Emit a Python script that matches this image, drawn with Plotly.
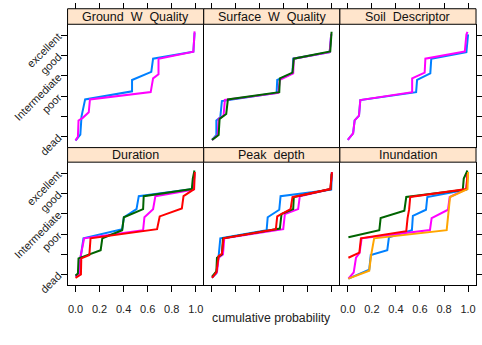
import plotly.graph_objects as go

# ---------------- data (cumulative probability vs. condition score) ----------------
level_vals = [0, 1, 2, 3, 4, 5]
level_text = ["dead", "", "poor", "Intermediate", "good", "excellent"]
x_tick_vals = [0.0, 0.2, 0.4, 0.6, 0.8, 1.0]
x_tick_text = ["0.0", "0.2", "0.4", "0.6", "0.8", "1.0"]
panel_titles = ["Ground  W  Quality", "Surface  W  Quality", "Soil  Descriptor",
                "Duration", "Peak  depth", "Inundation"]

# Ground W Quality
gw_blue_x = [0.0, 0.04, 0.05, 0.08, 0.47, 0.47, 0.63, 0.645, 0.98, 0.99]
gw_blue_y = [-0.19, 0.1, 1.0, 1.84, 2.24, 2.8, 3.2, 3.85, 4.2, 5.13]
gw_mag_x = [0.0, 0.02, 0.025, 0.06, 0.11, 0.12, 0.625, 0.645, 0.69, 0.69, 0.98, 0.99]
gw_mag_y = [-0.19, 0.0, 0.8, 0.93, 1.2, 1.84, 2.2, 2.88, 3.08, 3.85, 4.2, 5.2]

# Surface W Quality
sw_blue_x = [0.003, 0.039, 0.039, 0.072, 0.085, 0.54, 0.545, 0.672, 0.678, 0.981, 0.994]
sw_blue_y = [-0.16, 0.08, 0.80, 0.96, 1.76, 2.16, 2.8, 3.125, 3.85, 4.17, 5.05]
sw_mag_x = [0.003, 0.05, 0.058, 0.099, 0.11, 0.554, 0.567, 0.678, 0.683, 0.981, 0.994]
sw_mag_y = [-0.16, 0.08, 0.88, 1.04, 1.81, 2.16, 2.8, 3.125, 3.85, 4.17, 5.08]
sw_green_x = [0.003, 0.058, 0.066, 0.121, 0.135, 0.562, 0.567, 0.672, 0.683, 0.986, 0.997]
sw_green_y = [-0.16, 0.08, 0.88, 1.12, 1.84, 2.2, 2.88, 3.16, 3.85, 4.21, 5.18]

# Soil Descriptor
sd_blue_x = [0.0, 0.044, 0.057, 0.093, 0.104, 0.568, 0.576, 0.686, 0.694, 0.986, 1.0]
sd_blue_y = [-0.16, 0.16, 0.8, 1.04, 1.81, 2.2, 2.8, 3.125, 3.85, 4.17, 5.05]
sd_mag_x = [0.0, 0.044, 0.057, 0.093, 0.104, 0.535, 0.535, 0.639, 0.645, 0.973, 0.986, 0.995]
sd_mag_y = [-0.16, 0.16, 0.8, 1.04, 1.81, 2.2, 2.88, 3.16, 3.85, 4.21, 5.05, 5.18]

# Duration
du_blue_x = [0.0, 0.035, 0.044, 0.066, 0.388, 0.402, 0.507, 0.526, 0.98, 0.989]
du_blue_y = [-0.1, 0.1, 0.91, 1.79, 2.24, 2.83, 3.23, 3.87, 4.22, 5.06]
du_mag_x = [0.0, 0.03, 0.04, 0.072, 0.562, 0.573, 0.645, 0.664, 0.98, 0.989]
du_mag_y = [-0.1, 0.05, 0.84, 1.79, 2.19, 2.83, 3.23, 3.87, 4.19, 4.98]
du_green_x = [0.0, 0.02, 0.025, 0.209, 0.223, 0.388, 0.402, 0.562, 0.567, 0.967, 0.975, 0.989]
du_green_y = [-0.05, 0.05, 0.8, 1.2, 1.79, 2.19, 2.83, 3.23, 3.87, 4.22, 4.74, 5.14]
du_red_x = [0.0, 0.045, 0.048, 0.115, 0.125, 0.678, 0.7, 0.884, 0.898, 0.986, 0.992]
du_red_y = [-0.16, 0.0, 0.8, 0.96, 1.79, 2.24, 2.87, 3.26, 3.87, 4.22, 5.06]

# Peak depth
pd_blue_x = [0.003, 0.039, 0.058, 0.072, 0.457, 0.466, 0.562, 0.573, 0.994, 1.0]
pd_blue_y = [-0.16, 0.06, 0.91, 1.79, 2.19, 2.83, 3.2, 3.87, 4.19, 5.06]
pd_mag_x = [0.003, 0.044, 0.058, 0.094, 0.105, 0.595, 0.609, 0.719, 0.733, 0.989, 1.0]
pd_mag_y = [-0.13, 0.11, 0.83, 0.99, 1.79, 2.24, 2.99, 3.23, 3.87, 4.22, 5.06]
pd_green_x = [0.003, 0.039, 0.044, 0.085, 0.094, 0.567, 0.581, 0.678, 0.683, 0.989, 0.997]
pd_green_y = [-0.1, 0.16, 0.83, 0.99, 1.79, 2.27, 2.99, 3.23, 3.83, 4.22, 4.98]
pd_red_x = [0.003, 0.039, 0.058, 0.085, 0.099, 0.534, 0.545, 0.656, 0.672, 0.986, 1.0]
pd_red_y = [-0.16, 0.11, 0.91, 1.03, 1.79, 2.24, 2.87, 3.23, 3.82, 4.22, 5.06]

# Inundation
in_blue_x = [0.005, 0.178, 0.191, 0.328, 0.342, 0.533, 0.541, 0.65, 0.661, 0.986, 1.0]
in_blue_y = [-0.2, 0.24, 0.96, 1.2, 1.84, 2.19, 2.9, 3.2, 3.83, 4.19, 4.98]
in_mag_x = [0.005, 0.049, 0.068, 0.098, 0.115, 0.683, 0.697, 0.833, 0.847, 0.986, 0.995]
in_mag_y = [-0.2, 0.1, 0.83, 1.07, 1.79, 2.2, 2.79, 3.2, 3.83, 4.22, 4.98]
in_green_x = [0.005, 0.262, 0.273, 0.47, 0.486, 0.956, 0.964, 0.995]
in_green_y = [1.84, 2.19, 2.79, 3.15, 3.83, 4.18, 4.74, 5.14]
in_red_x = [0.005, 0.096, 0.109, 0.486, 0.497, 0.51, 0.519, 0.986, 0.995]
in_red_y = [0.83, 1.08, 1.79, 2.14, 2.79, 3.23, 3.83, 4.22, 4.98]
in_orange_x = [0.005, 0.178, 0.194, 0.219, 0.822, 0.836, 0.85, 0.995, 1.0]
in_orange_y = [-0.2, 0.19, 0.96, 1.79, 2.19, 3.0, 3.83, 4.22, 5.06]

# ---------------- styling ----------------
BLUE, MAG, GREEN, RED, ORANGE = "#0080ff", "#ff00ff", "#006400", "#ff0000", "#ffa500"
STRIP = "#ffe5cc"
FONT = "Liberation Sans, Arial, sans-serif"
W, H = 482, 345

panels = [
    [(gw_blue_x, gw_blue_y, BLUE), (gw_mag_x, gw_mag_y, MAG)],
    [(sw_blue_x, sw_blue_y, BLUE), (sw_mag_x, sw_mag_y, MAG), (sw_green_x, sw_green_y, GREEN)],
    [(sd_blue_x, sd_blue_y, BLUE), (sd_mag_x, sd_mag_y, MAG)],
    [(du_blue_x, du_blue_y, BLUE), (du_mag_x, du_mag_y, MAG), (du_green_x, du_green_y, GREEN),
     (du_red_x, du_red_y, RED)],
    [(pd_blue_x, pd_blue_y, BLUE), (pd_mag_x, pd_mag_y, MAG), (pd_green_x, pd_green_y, GREEN),
     (pd_red_x, pd_red_y, RED)],
    [(in_blue_x, in_blue_y, BLUE), (in_mag_x, in_mag_y, MAG), (in_green_x, in_green_y, GREEN),
     (in_red_x, in_red_y, RED), (in_orange_x, in_orange_y, ORANGE)],
]

# pixel layout -> paper fractions
col_px = [(68, 205), (205, 342), (342, 479)]
row_px = [(25, 152), (167, 294)]          # panel top/bottom
strip_px = [(9, 25), (152, 167)]          # strip top/bottom


def px_x(p):
    return p / W


def px_y(p):
    return 1 - p / H


XR = [-0.066, 1.066]
YR = [-0.54, 5.55]

fig = go.Figure()
layout = dict(width=W, height=H, margin=dict(l=0, r=0, t=0, b=0),
              paper_bgcolor="white", plot_bgcolor="white", showlegend=False,
              font=dict(family=FONT, size=11, color="black"))
shapes, annotations = [], []

for i, series in enumerate(panels):
    r, c = divmod(i, 3)
    n = i + 1
    xa = "x" if n == 1 else f"x{n}"
    ya = "y" if n == 1 else f"y{n}"
    for xs, ys, col in series:
        fig.add_trace(go.Scatter(x=xs, y=ys, mode="lines", xaxis=xa, yaxis=ya,
                                 line=dict(color=col, width=2), hoverinfo="skip"))
    xd = [px_x(col_px[c][0]), px_x(col_px[c][1])]
    yd = [px_y(row_px[r][1]), px_y(row_px[r][0])]
    xaxis = dict(domain=xd, anchor=ya, range=XR, showgrid=False, zeroline=False,
                 linecolor="black", linewidth=1,
                 tickvals=x_tick_vals, ticktext=x_tick_text)
    if r == 1:
        xaxis.update(showline=True, mirror=False,
                     ticks="outside", ticklen=6, tickcolor="black", tickwidth=1,
                     showticklabels=(c != 1), tickfont=dict(size=11, color="#222"),
                     ticklabelstandoff=7)
    else:
        xaxis.update(showline=False, ticks="", showticklabels=False)
    yaxis = dict(domain=yd, anchor=xa, range=YR, showgrid=False, zeroline=False,
                 showline=True, linecolor="black", linewidth=1,
                 tickvals=level_vals, ticktext=level_text)
    if c == 0:
        yaxis.update(mirror=False, ticks="outside", ticklen=6, tickcolor="black",
                     tickwidth=1, showticklabels=True, tickangle=-45,
                     tickfont=dict(size=11, color="#222"))
    elif c == 2:
        yaxis.update(side="right", mirror=True, ticks="outside", ticklen=6,
                     tickcolor="black", tickwidth=1, showticklabels=False)
    else:
        yaxis.update(mirror=False, ticks="", showticklabels=False)
    layout["xaxis" if n == 1 else f"xaxis{n}"] = xaxis
    layout["yaxis" if n == 1 else f"yaxis{n}"] = yaxis

    # strip
    sy0, sy1 = strip_px[r]
    shapes.append(dict(type="rect", xref="paper", yref="paper",
                       x0=xd[0], x1=xd[1], y0=px_y(sy1), y1=px_y(sy0),
                       fillcolor=STRIP, line=dict(color="black", width=1), layer="above"))
    annotations.append(dict(text=panel_titles[i], xref="paper", yref="paper",
                            x=(xd[0] + xd[1]) / 2, y=(px_y(sy0) + px_y(sy1)) / 2,
                            xanchor="center", yanchor="middle", showarrow=False,
                            font=dict(size=12.5, color="#111", family=FONT)))

# top tick marks above the strips of the first row
for c in range(3):
    n = 7 + c
    base = "x" if c == 0 else f"x{c + 1}"
    layout[f"xaxis{n}"] = dict(overlaying=base, anchor="free", position=px_y(strip_px[0][0]),
                               side="top", range=XR, tickvals=x_tick_vals, ticks="outside",
                               ticklen=6, tickcolor="black", tickwidth=1,
                               showticklabels=False, showgrid=False, zeroline=False,
                               showline=False)
    fig.add_trace(go.Scatter(x=[None], y=[None], xaxis=f"x{n}",
                             yaxis="y" if c == 0 else f"y{c + 1}", mode="lines",
                             hoverinfo="skip"))

annotations.append(dict(text="cumulative probability", xref="paper", yref="paper",
                        x=px_x((col_px[0][0] + col_px[2][1]) / 2), y=px_y(328),
                        xanchor="center", yanchor="middle", showarrow=False,
                        font=dict(size=12.3, color="#222", family=FONT)))

layout["shapes"] = shapes
layout["annotations"] = annotations
fig.update_layout(**layout)
fig.write_html("out.html", config={"displayModeBar": False},
               post_script="document.body.style.margin='0';document.body.style.padding='0';")
